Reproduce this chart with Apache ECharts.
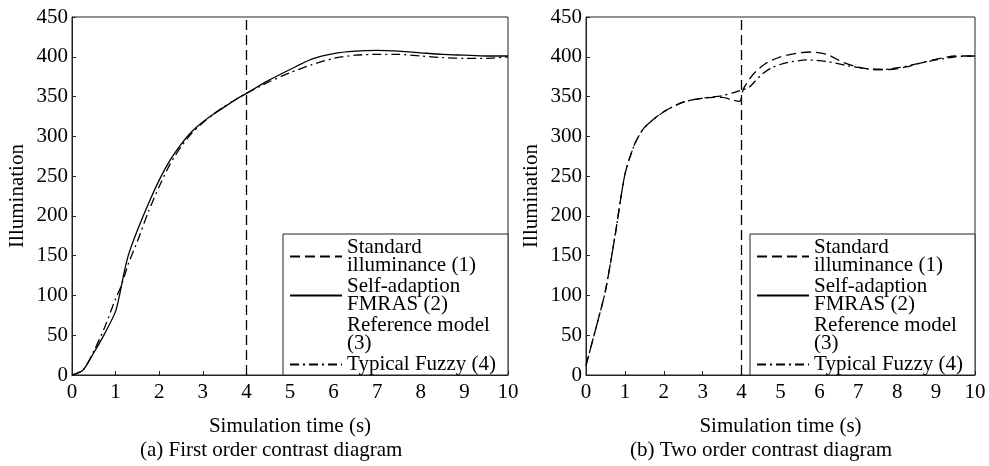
<!DOCTYPE html>
<html>
<head>
<meta charset="utf-8">
<script src="https://cdn.jsdelivr.net/npm/echarts@6/dist/echarts.min.js"></script>
<style>html,body{margin:0;padding:0;background:#fff;}#c{width:989px;height:466px;}</style>
</head>
<body>
<div id="c"></div>
<script>
const seriesNames = ['Standard\nilluminance (1)', 'Self-adaption\nFMRAS (2)', 'Reference model\n(3)', 'Typical Fuzzy (4)'];
const xTicks = [0,1,2,3,4,5,6,7,8,9,10];
const yTicks = [0,50,100,150,200,250,300,350,400,450];
const stepTime = 4;

// (a) First order
const leftTime  = [0,0.25,0.5,0.75,1,1.1,1.2,1.3,1.5,1.75,2,2.25,2.5,2.75,3,3.25,3.5,3.75,4,4.5,5,5.5,6,6.5,7,7.5,8,8.5,9,9.5,10];
const leftFmras = [0,6,28,52,80,103,130,152,182,215,245,270,290,306,318,328,337,346,354,370,384,397,404,407,408,407,405,403,402,401,401];
const leftFuzzy = [0,6,30,60,96,108,124,141,168,205,237,265,287,304,317,328,338,346,354,368,380,390,398,402,403,403,401,399,398,398,400];

// (b) Two order
const rightTimeA    = [0,0.25,0.5,0.75,1,1.25,1.5,2,2.5,3,3.5,3.75,3.95,4.05,4.3,4.6,5,5.5,5.8,6.2,6.6,7,7.4,7.8,8.2,8.6,9,9.5,10];
const rightStandard = [12,58,106,176,252,290,311,331,343,348,349,346,344,360,378,391,400,405,406,403,393,387,384,384,387,392,397,401,401];
const rightTimeB    = [0,0.25,0.5,0.75,1,1.25,1.5,2,2.5,3,3.5,3.8,4,4.2,4.5,4.8,5.2,5.7,6.2,6.7,7.2,7.6,8,8.5,9,9.5,10];
const rightFuzzy    = [12,58,106,176,252,290,311,331,343,348,351,355,358,362,377,387,393,396,394,389,385,384,386,391,396,400,401];

const captions = ['(a) First order contrast diagram', '(b) Two order contrast diagram'];

const FONT = '"Liberation Serif", "Times New Roman", serif';
const FS = 21;
const pairs = (xs, ys) => xs.map((x, i) => [x, ys[i]]);

const dashStd = [10, 5];
const dashDot = [9, 4, 2, 4];

function xAxis(idx) {
  return {
    type: 'value', gridIndex: idx, min: xTicks[0], max: xTicks[xTicks.length-1], interval: 1,
    name: 'Simulation time (s)', nameLocation: 'middle', nameGap: 41,
    nameTextStyle: {fontFamily: FONT, fontSize: FS, color: '#000'},
    axisLine: {show: true, lineStyle: {color: '#222', width: 1}},
    axisTick: {show: true, inside: true, length: 4, lineStyle: {color: '#222'}},
    axisLabel: {fontFamily: FONT, fontSize: FS, color: '#000', margin: 7},
    splitLine: {show: false}
  };
}
function yAxis(idx) {
  return {
    type: 'value', gridIndex: idx, min: yTicks[0], max: yTicks[yTicks.length-1], interval: 50,
    name: 'Illumination', nameLocation: 'middle', nameGap: 44,
    nameTextStyle: {fontFamily: FONT, fontSize: FS, color: '#000'},
    axisLine: {show: true, lineStyle: {color: '#222', width: 1}},
    axisTick: {show: true, inside: true, length: 4, lineStyle: {color: '#222'}},
    axisLabel: {fontFamily: FONT, fontSize: FS, color: '#000', margin: 4},
    splitLine: {show: false}
  };
}
function line(name, idx, data, type, color) {
  return {
    name, type: 'line', xAxisIndex: idx, yAxisIndex: idx, data,
    showSymbol: false, symbol: 'none', smooth: 0.25,
    lineStyle: {color: color || '#000', width: 1.3, type: type},
    itemStyle: {color: color || '#000'},
    emphasis: {disabled: true}, silent: true, animation: false, z: 3
  };
}
function vMark() {
  return {
    silent: true, symbol: 'none', animation: false,
    label: {show: false},
    lineStyle: {color: '#000', width: 1.3, type: dashStd},
    data: [{xAxis: stepTime}]
  };
}
function legend(rightPx) {
  return {
    data: seriesNames, orient: 'vertical', right: rightPx, bottom: 91,
    itemWidth: 52, itemHeight: 14, itemGap: 0,
    padding: [3, 12, 0, 6],
    backgroundColor: '#fff', borderColor: '#222', borderWidth: 1,
    itemStyle: {opacity: 0, borderWidth: 0},
    textStyle: {fontFamily: FONT, fontSize: FS, color: '#000', lineHeight: 18},
    selectedMode: false
  };
}

const sFuzzyL = line(seriesNames[3], 0, pairs(leftTime, leftFuzzy), dashDot);
sFuzzyL.markLine = vMark();
const sFuzzyR = line(seriesNames[3], 1, pairs(rightTimeB, rightFuzzy), dashDot);
sFuzzyR.markLine = vMark();

const option = {
  backgroundColor: '#fff',
  animation: false,
  grid: [
    {left: 72, top: 17, width: 436, height: 358, show: true, borderColor: '#222', borderWidth: 1, backgroundColor: 'transparent'},
    {left: 586, top: 17, width: 389, height: 358, show: true, borderColor: '#222', borderWidth: 1, backgroundColor: 'transparent'}
  ],
  xAxis: [xAxis(0), xAxis(1)],
  yAxis: [yAxis(0), yAxis(1)],
  legend: [legend(989 - 508), legend(989 - 975)],
  series: [
    line(seriesNames[0], 0, [], dashStd),
    line(seriesNames[1], 0, pairs(leftTime, leftFmras), 'solid'),
    line(seriesNames[2], 0, [], 'solid', 'rgba(0,0,0,0)'),
    sFuzzyL,
    line(seriesNames[0], 1, pairs(rightTimeA, rightStandard), dashStd),
    line(seriesNames[1], 1, [], 'solid'),
    line(seriesNames[2], 1, [], 'solid', 'rgba(0,0,0,0)'),
    sFuzzyR
  ],
  graphic: [
    {type: 'text', left: 290 - 150, top: 440, style: {text: captions[0], font: FS + 'px ' + FONT, fill: '#000', width: 300, align: 'center'}},
    {type: 'text', left: 780 - 150, top: 440, style: {text: captions[1], font: FS + 'px ' + FONT, fill: '#000', width: 300, align: 'center'}}
  ]
};
const chart = echarts.init(document.getElementById('c'), null, {renderer: 'canvas'});
chart.setOption(option);
</script>
</body>
</html>
